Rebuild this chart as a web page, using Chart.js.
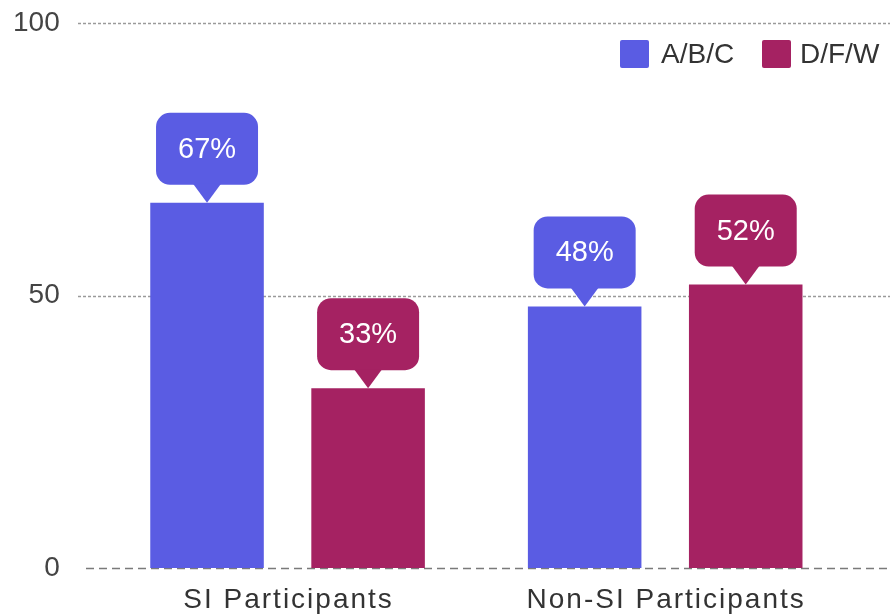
<!DOCTYPE html>
<html>
<head>
<meta charset="utf-8">
<script src="https://cdn.jsdelivr.net/npm/chart.js@4.4.1/dist/chart.umd.min.js"></script>
<style>
  html, body { margin: 0; padding: 0; background: #fff; }
  #wrap { width: 890px; height: 616px; }
</style>
</head>
<body>
<div id="wrap"><canvas id="chart" width="890" height="616"></canvas></div>
<script>
/* ===== Data ===== */
const categories = ['SI Participants', 'Non-SI Participants'];
const seriesNames = ['A/B/C', 'D/F/W'];
const passValues = [67, 48];
const failValues = [33, 52];
const yTicks = [0, 50, 100];

const COLORS = ['#5a5ce3', '#a52262'];
const FONT = "'Liberation Sans', Arial, sans-serif";

/* ===== Plugins ===== */
const gridPlugin = {
    id: 'dashedGrid',
    beforeDatasetsDraw(chart) {
        const { ctx } = chart;
        const y = chart.scales.y;
        ctx.save();
        yTicks.forEach(v => {
            const py = Math.round(y.getPixelForValue(v)) + 0.5;
            ctx.beginPath();
            if (v === 0) {
                ctx.setLineDash([8, 5]);
                ctx.strokeStyle = '#7a7a7a';
                ctx.lineWidth = 1.5;
                ctx.moveTo(86, py);
            } else {
                ctx.setLineDash([3, 2]);
                ctx.strokeStyle = '#9a9a9a';
                ctx.lineWidth = 1.5;
                ctx.moveTo(78, py);
            }
            ctx.lineTo(chart.width, py);
            ctx.stroke();
        });
        ctx.restore();
    }
};

// x category labels, letter-spaced like the original
const xLabelPlugin = {
    id: 'xLabels',
    afterDraw(chart) {
        const { ctx } = chart;
        const x = chart.scales.x;
        ctx.save();
        ctx.font = '28px ' + FONT;
        ctx.letterSpacing = '2px';
        ctx.fillStyle = '#333';
        ctx.textAlign = 'center';
        ctx.textBaseline = 'alphabetic';
        categories.forEach((c, i) => {
            ctx.fillText(c, x.getPixelForValue(i) + 1, 608);
        });
        ctx.restore();
    }
};

const calloutPlugin = {
    id: 'callouts',
    afterDatasetsDraw(chart) {
        const { ctx } = chart;
        const w = 102, h = 72, r = 14, tip = 18, half = 14;
        ctx.save();
        chart.data.datasets.forEach((ds, di) => {
            chart.getDatasetMeta(di).data.forEach((bar, i) => {
                const x = bar.x, top = bar.y;
                const bottom = top - tip;
                const left = x - w / 2, upper = bottom - h;
                ctx.fillStyle = ds.backgroundColor;
                ctx.beginPath();
                ctx.roundRect(left, upper, w, h, r);
                ctx.fill();
                ctx.beginPath();
                ctx.moveTo(x - half, bottom - 1);
                ctx.lineTo(x + half, bottom - 1);
                ctx.lineTo(x, top);
                ctx.closePath();
                ctx.fill();
                ctx.fillStyle = '#fff';
                ctx.font = '29px ' + FONT;
                ctx.textAlign = 'center';
                ctx.textBaseline = 'middle';
                ctx.fillText(ds.data[i] + '%', x, upper + h / 2 + 1);
            });
        });
        ctx.restore();
    }
};

const legendPlugin = {
    id: 'customLegend',
    afterDraw(chart) {
        const { ctx } = chart;
        const items = [{ x: 620, tx: 661 }, { x: 762, tx: 800 }];
        ctx.save();
        ctx.font = '28px ' + FONT;
        ctx.textBaseline = 'middle';
        ctx.textAlign = 'left';
        chart.data.datasets.forEach((ds, i) => {
            ctx.fillStyle = ds.backgroundColor;
            ctx.beginPath();
            ctx.roundRect(items[i].x, 40, 29, 28, 2);
            ctx.fill();
            ctx.fillStyle = '#333';
            ctx.fillText(ds.label, items[i].tx, 55);
        });
        ctx.restore();
    }
};

/* ===== Chart ===== */
new Chart(document.getElementById('chart'), {
    type: 'bar',
    data: {
        labels: categories,
        datasets: [
            { label: seriesNames[0], data: passValues, backgroundColor: COLORS[0] },
            { label: seriesNames[1], data: failValues, backgroundColor: COLORS[1] }
        ]
    },
    options: {
        responsive: false,
        animation: false,
        layout: { padding: { top: 23, right: 36, left: 0, bottom: 0 } },
        categoryPercentage: 0.853,
        barPercentage: 0.705,
        plugins: { legend: { display: false }, tooltip: { enabled: false } },
        scales: {
            y: {
                min: 0, max: 100,
                afterFit: s => { s.width = 98.75; s.paddingTop = 0; s.paddingBottom = 0; },
                afterBuildTicks: s => { s.ticks = yTicks.map(v => ({ value: v })); },
                grid: { display: false },
                border: { display: false },
                ticks: { padding: 31, color: '#444', font: { family: FONT, size: 28 } }
            },
            x: {
                afterFit: s => { s.height = 48; s.paddingLeft = 0; s.paddingRight = 0; },
                grid: { display: false },
                border: { display: false },
                ticks: { display: false }
            }
        }
    },
    plugins: [gridPlugin, calloutPlugin, xLabelPlugin, legendPlugin]
});
</script>
</body>
</html>
